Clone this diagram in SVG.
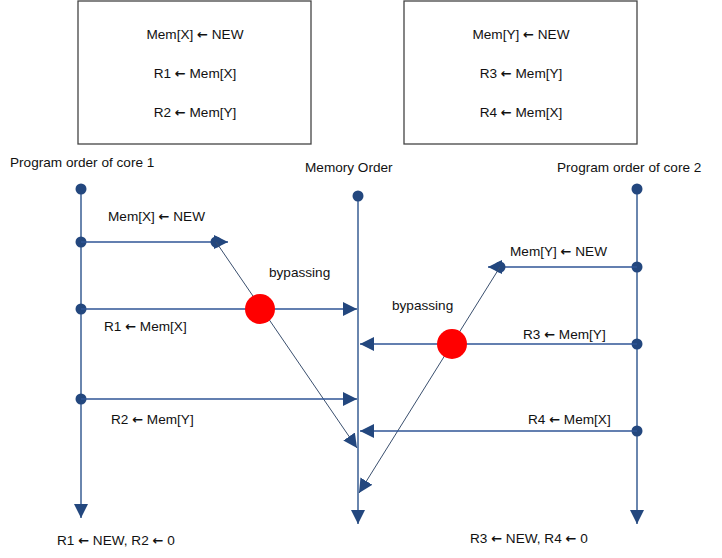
<svg xmlns="http://www.w3.org/2000/svg" width="722" height="558" viewBox="0 0 722 558">
<style>
text{font-family:"Liberation Sans",Arial,sans-serif;font-size:13.6px;fill:#111}
.a{font-family:"DejaVu Sans",sans-serif;font-weight:bold;font-size:13px}
.box{fill:#fff;stroke:#444;stroke-width:1.3}
.v{stroke:#6A86AE;stroke-width:2;fill:none}
.h{stroke:#2F5496;stroke-width:1.3;fill:none}
.d{stroke:#3A4F6E;stroke-width:1;fill:none}
.dot{fill:#23477E}
.red{fill:#F00}
.mid{text-anchor:middle}
</style>
<defs>
<marker id="ah" viewBox="0 0 10 10" refX="10" refY="5" markerWidth="14" markerHeight="14" markerUnits="userSpaceOnUse" orient="auto"><path d="M0,0L10,5L0,10z" fill="#23477E"/></marker>
</defs>
<g id="box1"><rect class="box" x="78" y="1" width="233" height="143"/>
<text class="mid" x="195" y="39">Mem[X] <tspan class="a">←</tspan> NEW</text>
<text class="mid" x="195" y="78">R1 <tspan class="a">←</tspan> Mem[X]</text>
<text class="mid" x="195" y="117">R2 <tspan class="a">←</tspan> Mem[Y]</text></g>
<g id="box2"><rect class="box" x="404" y="1" width="233" height="143"/>
<text class="mid" x="521" y="39">Mem[Y] <tspan class="a">←</tspan> NEW</text>
<text class="mid" x="521" y="78">R3 <tspan class="a">←</tspan> Mem[Y]</text>
<text class="mid" x="521" y="117">R4 <tspan class="a">←</tspan> Mem[X]</text></g>
<g id="core1">
<text x="10" y="167">Program order of core 1</text>
<line class="v" x1="81" y1="189" x2="81" y2="518" marker-end="url(#ah)"/>
<circle class="dot" cx="81" cy="189" r="5.5"/><circle class="dot" cx="81" cy="242" r="5.5"/><circle class="dot" cx="81" cy="309" r="5.5"/><circle class="dot" cx="81" cy="399" r="5.5"/>
<text x="57" y="545">R1 <tspan class="a">←</tspan> NEW, R2 <tspan class="a">←</tspan> 0</text></g>
<g id="memory">
<text x="305" y="172">Memory Order</text>
<line class="v" x1="358" y1="196" x2="358" y2="524" marker-end="url(#ah)"/>
<circle class="dot" cx="358" cy="196" r="5.5"/></g>
<g id="core2">
<text x="557" y="172">Program order of core 2</text>
<line class="v" x1="637" y1="189" x2="637" y2="524" marker-end="url(#ah)"/>
<circle class="dot" cx="637" cy="189" r="5.5"/><circle class="dot" cx="637" cy="267" r="5.5"/><circle class="dot" cx="637" cy="344" r="5.5"/><circle class="dot" cx="637" cy="431" r="5.5"/>
<text x="470" y="543">R3 <tspan class="a">←</tspan> NEW, R4 <tspan class="a">←</tspan> 0</text></g>
<g id="connectors">
<line class="h" x1="81" y1="242" x2="228" y2="242" marker-end="url(#ah)"/>
<circle class="dot" cx="216" cy="242" r="5.5"/>
<line class="d" x1="216" y1="242" x2="357" y2="448" marker-end="url(#ah)"/>
<line class="h" x1="81" y1="309" x2="357" y2="309" marker-end="url(#ah)"/>
<line class="h" x1="81" y1="399" x2="357" y2="399" marker-end="url(#ah)"/>
<line class="h" x1="637" y1="267" x2="488" y2="267" marker-end="url(#ah)"/>
<circle class="dot" cx="500" cy="267" r="5.5"/>
<line class="d" x1="500" y1="267" x2="359" y2="493" marker-end="url(#ah)"/>
<line class="h" x1="637" y1="344" x2="360" y2="344" marker-end="url(#ah)"/>
<line class="h" x1="637" y1="431" x2="360" y2="431" marker-end="url(#ah)"/>
<circle class="red" cx="260" cy="309" r="15"/>
<circle class="red" cx="452" cy="344" r="15"/>
<text x="108" y="221">Mem[X] <tspan class="a">←</tspan> NEW</text>
<text x="269" y="277">bypassing</text>
<text x="104" y="331">R1 <tspan class="a">←</tspan> Mem[X]</text>
<text x="111" y="424">R2 <tspan class="a">←</tspan> Mem[Y]</text>
<text x="510" y="256">Mem[Y] <tspan class="a">←</tspan> NEW</text>
<text x="392" y="310">bypassing</text>
<text x="523" y="339">R3 <tspan class="a">←</tspan> Mem[Y]</text>
<text x="528" y="424">R4 <tspan class="a">←</tspan> Mem[X]</text>
</g>
</svg>
